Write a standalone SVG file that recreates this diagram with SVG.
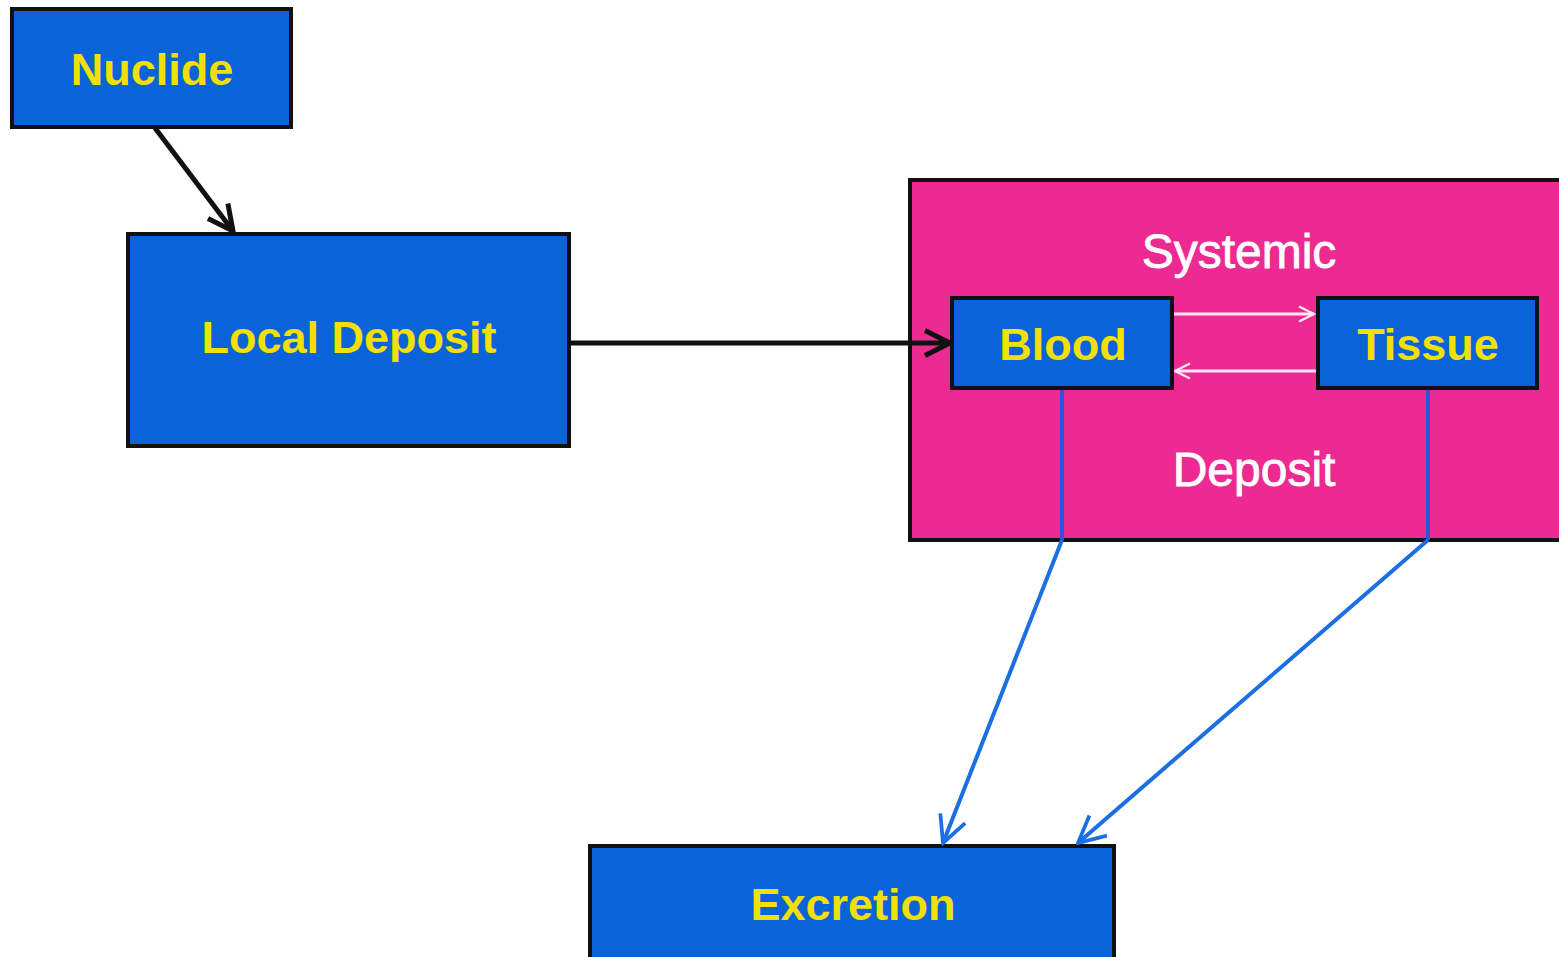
<svg xmlns="http://www.w3.org/2000/svg" width="1559" height="957" viewBox="0 0 1559 957">
<style>
.box{fill:#0b63d9;stroke:#111;stroke-width:4}
.lbl{font-family:"Liberation Sans",Arial,sans-serif;font-weight:bold;font-size:45px;fill:#f2e000;text-anchor:middle}
.wl{font-family:"Liberation Sans",Arial,sans-serif;font-size:48px;fill:#ffffff;stroke:#ffffff;stroke-width:0.8;text-anchor:middle}
.blk{fill:none;stroke:#111;stroke-width:5}
.wht{fill:none;stroke:#ffe8f4;stroke-width:3}
.blu{fill:none;stroke:#1a6fe3;stroke-width:4}
.bld{fill:none;stroke:#2a55d4;stroke-width:4}
</style>
<defs>
<marker id="mb" viewBox="0 0 12 12" refX="11" refY="6" markerWidth="6" markerHeight="6" markerUnits="strokeWidth" orient="auto">
<polyline points="1,1 11,6 1,11" fill="none" stroke="#111" stroke-width="2"/>
</marker>
<marker id="mw" viewBox="0 0 12 12" refX="11" refY="6" markerWidth="6" markerHeight="6" markerUnits="strokeWidth" orient="auto">
<polyline points="1,1 11,6 1,11" fill="none" stroke="#ffe8f4" stroke-width="1.5"/>
</marker>
<marker id="mu" viewBox="0 0 12 12" refX="11" refY="6" markerWidth="8" markerHeight="8" markerUnits="strokeWidth" orient="auto">
<polyline points="1,1 11,6 1,11" fill="none" stroke="#1a6fe3" stroke-width="1.4"/>
</marker>
</defs>
<rect width="1559" height="957" fill="#ffffff"/>
<g id="systemic">
<rect x="910" y="180" width="660" height="360" fill="#ec2a92" stroke="#111" stroke-width="4"/>
<text class="wl" x="1239" y="268">Systemic</text>
<text class="wl" x="1254" y="486">Deposit</text>
</g>
<g id="nuclide">
<rect class="box" x="12" y="9" width="279" height="118"/>
<text class="lbl" x="152" y="85">Nuclide</text>
</g>
<g id="local">
<rect class="box" x="128" y="234" width="441" height="212"/>
<text class="lbl" x="349" y="353">Local Deposit</text>
</g>
<g id="blood">
<rect class="box" x="952" y="298" width="220" height="90"/>
<text class="lbl" x="1063" y="360">Blood</text>
</g>
<g id="tissue">
<rect class="box" x="1318" y="298" width="219" height="90"/>
<text class="lbl" x="1428" y="360">Tissue</text>
</g>
<g id="excretion">
<rect class="box" x="590" y="846" width="524" height="120"/>
<text class="lbl" x="853" y="920">Excretion</text>
</g>
<g id="connectors">
<line class="blk" x1="155" y1="128" x2="233" y2="231" marker-end="url(#mb)"/>
<line class="blk" x1="571" y1="343" x2="950" y2="343" marker-end="url(#mb)"/>
<line class="wht" x1="1174" y1="314" x2="1314" y2="314" marker-end="url(#mw)"/>
<line class="wht" x1="1316" y1="371" x2="1175" y2="371" marker-end="url(#mw)"/>
<line class="bld" x1="1062" y1="390" x2="1062" y2="540"/>
<line class="bld" x1="1428" y1="390" x2="1428" y2="540"/>
<line class="blu" x1="1062" y1="540" x2="943" y2="843" marker-end="url(#mu)"/>
<line class="blu" x1="1428" y1="540" x2="1078" y2="843" marker-end="url(#mu)"/>
</g>
</svg>
